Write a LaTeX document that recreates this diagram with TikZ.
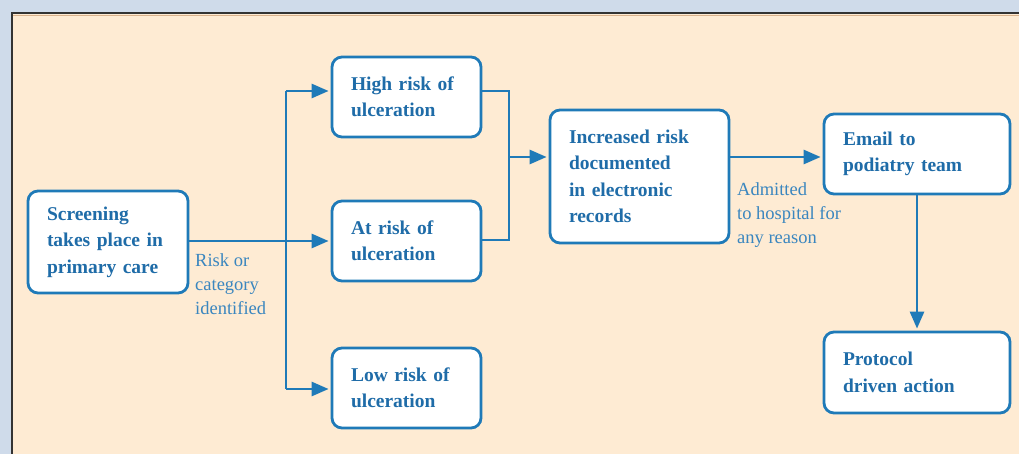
\documentclass[tikz,border=0pt]{standalone}
\usepackage{fontspec}
\setmainfont{Liberation Serif}
\usetikzlibrary{arrows.meta,calc}
\definecolor{bgblue}{HTML}{CFDBEA}
\definecolor{peach}{HTML}{FEEBD3}
\definecolor{lineblue}{HTML}{1F7AB8}
\definecolor{textblue}{HTML}{1F6CA8}
\definecolor{labelblue}{HTML}{3A86BF}
\tikzset{
  box/.style={draw=lineblue, line width=2.8pt, fill=white, rounded corners=10pt,
    inner xsep=19pt, inner ysep=0pt, align=left, anchor=center,
    font=\fontsize{19.5}{26.5}\selectfont\bfseries, text=textblue},
  lbl/.style={anchor=north west, inner sep=0pt, align=left,
    font=\fontsize{18.5}{24}\selectfont, text=labelblue},
  conn/.style={draw=lineblue, line width=2.8pt},
  arr/.style={conn, -{Triangle[length=17pt,width=14pt]}, shorten >=2pt}
}
\newcommand{\mybox}[6]{% name, x1, y1, x2, y2, text
  \node[box, text width={#4-#2-38pt}, minimum width={#4-#2}, minimum height={#5-#3}]
    (#1) at ({(#2+#4)/2},{(#3+#5)/2}) {#6};}
\begin{document}
\begin{tikzpicture}[x=1pt,y=-1pt]
\useasboundingbox (0,0) rectangle (1019,454);
\fill[bgblue] (0,0) rectangle (1019,454);
\fill[peach] (12,14) rectangle (1019,454);
\draw[line width=1pt, draw=brown!60] (13,15.2) -- (1019,15.2);
\draw[line width=2pt, draw=black!80] (12,454) -- (12,13) -- (1019,13);

\mybox{scr}{28}{191}{188}{293}{Screening\\takes place in\\primary care}
\mybox{high}{332}{57}{481}{137}{High risk of\\ulceration}
\mybox{atrisk}{332}{201}{481}{281}{At risk of\\ulceration}
\mybox{low}{332}{348}{481}{428}{Low risk of\\ulceration}
\mybox{inc}{550}{110}{729}{243}{Increased risk\\documented\\in electronic\\records}
\mybox{email}{824}{114}{1010}{194}{Email to\\podiatry team}
\mybox{prot}{824}{332}{1010}{413}{Protocol\\driven action}

\coordinate (br) at (286,241);
\coordinate (m) at (509,157);

\draw[arr] (scr.east |- br) -- (atrisk.west |- br);
\draw[conn] (br |- 0,91) -- (br |- 0,389);
\draw[arr] (br |- 0,91) -- (high.west |- 0,91);
\draw[arr] (br |- 0,389) -- (low.west |- 0,389);
\draw[conn] (high.east |- 0,91) -| (m |- 0,240) -- (atrisk.east |- 0,240);
\draw[arr] (m) -- (inc.west |- m);
\draw[arr] (inc.east |- m) -- (email.west |- m);
\draw[arr] (email.south) -- (prot.north);

\node[lbl] (l1) at (195,253) {Risk or\\category\\identified};
\node[lbl] (l2) at (737,182) {Admitted\\to hospital for\\any reason};
\end{tikzpicture}
\end{document}
